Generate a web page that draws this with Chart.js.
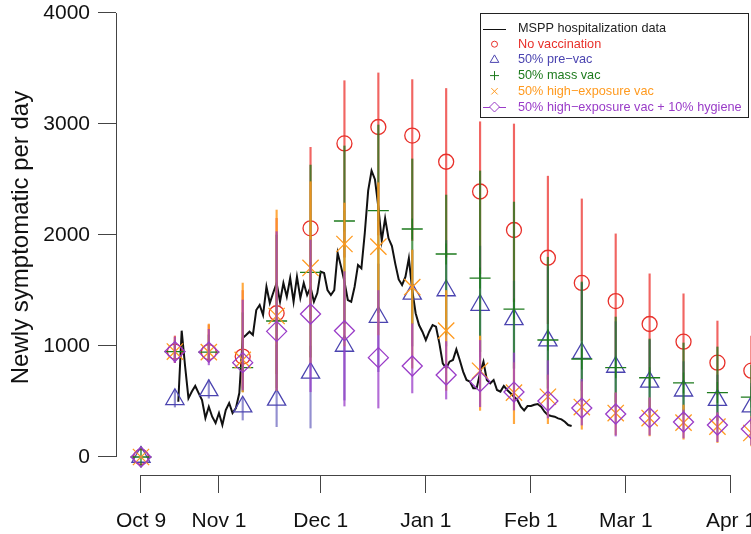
<!DOCTYPE html>
<html>
<head>
<meta charset="utf-8">
<script src="https://cdn.jsdelivr.net/npm/chart.js@4.4.1/dist/chart.umd.min.js"></script>
<style>
  html, body { margin: 0; padding: 0; background: #fff; }
  #wrap { width: 751px; height: 534px; }
</style>
</head>
<body>
<div id="wrap"><canvas id="myChart" width="751" height="534"></canvas></div>
<script>
// model runs, one value every 10 days from Oct 9 (day 0)
var days = [0,10,20,30,40,50,60,70,80,90,100,110,120,130,140,150,160,170,180];

var noVac   = [0,950,945,905,1295,2060,2825,2973,2896,2660,2392,2045,1795,1568,1405,1198,1039,850,778];
var noVacHi = [0,1090,1190,1500,2150,2790,3390,3460,3400,3320,3020,3000,2530,2325,2010,1650,1470,1225,1090];
var noVacLo = [0,850,860,620,750,1250,1800,2000,1950,1800,1650,1400,1200,1050,900,760,650,560,500];

var preVac   = [0,520,600,453,515,757,1000,1261,1470,1500,1369,1240,1048,935,811,676,597,513,453];
var preVacHi = [0,603,694,531,1009,1000,1612,1739,1865,1950,1900,1585,1712,1568,1219,1054,859,739,664];
var preVacLo = [0,450,530,333,273,261,513,769,1000,1000,900,800,700,600,498,453,423,378,333];

var massVac   = [0,950,945,805,1225,1663,2126,2219,2054,1829,1612,1333,1054,883,805,714,667,580,540];
var massVacHi = [0,1050,1100,1300,2000,2630,2802,2991,2685,2360,2577,2297,1800,1577,1261,1063,1027,991,829];
var massVacLo = [0,880,880,588,620,900,1200,1300,1200,1100,950,800,620,500,450,400,380,330,300];

var highExp   = [0,950,945,875,1270,1703,1919,1895,1531,1138,777,580,543,450,396,351,309,273,216];
var highExpHi = [0,1080,1198,1567,2225,2480,2288,2471,1865,1500,1090,850,739,678,577,532,468,396,363];
var highExpLo = [0,860,860,585,600,850,1000,1100,800,600,420,300,300,250,200,190,160,130,100];

var hygiene   = [0,950,945,850,1132,1288,1138,895,820,739,679,585,504,441,387,354,315,288,252];
var hygieneHi = [0,1080,1150,1414,2030,1955,1670,1500,1200,1040,1050,937,868,700,577,532,423,400,360];
var hygieneLo = [0,850,830,603,603,588,459,441,577,522,453,423,351,288,189,198,171,138,108];

// MSPP daily hospitalizations, starting at day 11
var hospStart = 11;
var hosp = [
  498,1138,820,530,590,640,576,513,351,453,
  363,306,396,288,423,486,396,441,576,1072,
  1099,1129,1099,1324,1369,1279,1534,1387,1480,1567,
  1399,1567,1444,1612,1399,1624,1432,1567,1459,1530,
  1399,1477,1670,1657,1504,1459,1504,1838,1715,1580,
  1414,1399,1534,1730,1700,2018,2400,2579,2500,2250,
  1950,2150,1970,1900,1740,1600,1550,1624,1790,1500,
  1295,1189,1129,1054,1129,1189,1174,1024,844,800,
  859,874,970,874,769,694,679,619,619,760,
  859,694,664,694,604,589,640,604,574,543,
  514,453,420,459,459,470,477,453,408,378,
  370,363,348,339,318,288,279
];

var xTicks = [0,23,53,84,115,143,174];
var xTickLabels = ['Oct 9','Nov 1','Dec 1','Jan 1','Feb 1','Mar 1','Apr 1'];
var yTicks = [0,1000,2000,3000,4000];

var seriesNames = ['MSPP hospitalization data','No vaccination','50% pre\u2212vac','50% mass vac',
  '50% high\u2212exposure vac','50% high\u2212exposure vac + 10% hygiene'];

var FONT = "'Liberation Sans', Arial, Helvetica, sans-serif";
Chart.defaults.font.family = FONT;

var models = [
  {name: seriesNames[1], v: noVac, lo: noVacLo, hi: noVacHi, color: '#E8302A', bar: 'rgba(236,50,45,0.75)', style: 'circle', r: 7.5},
  {name: seriesNames[2], v: preVac, lo: preVacLo, hi: preVacHi, color: '#4B44B0', bar: 'rgba(75,68,176,0.6)', style: 'triangle', r: 10.5},
  {name: seriesNames[3], v: massVac, lo: massVacLo, hi: massVacHi, color: '#1E7B1E', bar: 'rgba(30,123,30,0.75)', style: 'cross', r: 10.5},
  {name: seriesNames[4], v: highExp, lo: highExpLo, hi: highExpHi, color: '#FF9A1F', bar: 'rgba(255,154,31,0.85)', style: 'crossRot', r: 11.5},
  {name: seriesNames[5], v: hygiene, lo: hygieneLo, hi: hygieneHi, color: '#9A3CC8', bar: 'rgba(154,60,200,0.75)', style: 'rectRot', r: 10}
];

var datasets = [{
  type: 'line',
  label: seriesNames[0],
  data: hosp.map(function (v, i) { return {x: hospStart + i, y: v}; }),
  borderColor: '#111',
  borderWidth: 2,
  pointRadius: 0,
  tension: 0,
  order: 20
}];

models.forEach(function (m, k) {
  datasets.push({
    type: 'bar',
    label: m.name + ' range',
    data: days.map(function (d, i) { return {x: d, y: [m.lo[i], m.hi[i]]}; }),
    backgroundColor: m.bar,
    borderWidth: 0,
    barThickness: 1.5,
    grouped: false,
    order: 11 - k * 2
  });
  datasets.push({
    type: 'line',
    label: m.name,
    data: days.map(function (d, i) { return {x: d, y: m.v[i]}; }),
    showLine: false,
    pointStyle: m.style,
    pointRadius: m.r,
    pointBorderColor: m.color,
    pointBackgroundColor: 'rgba(0,0,0,0)',
    pointBorderWidth: 1.3,
    order: 10 - k * 2
  });
});

// R-style axis lines (only between first and last tick)
var rAxes = {
  id: 'rAxes',
  afterDraw: function (chart) {
    var ctx = chart.ctx, xs = chart.scales.x, ys = chart.scales.y;
    ctx.save();
    ctx.strokeStyle = '#444';
    ctx.lineWidth = 1;
    ctx.beginPath();
    var ax = Math.round(chart.chartArea.left) + 0.5;
    ctx.moveTo(ax, ys.getPixelForValue(yTicks[yTicks.length - 1]));
    ctx.lineTo(ax, ys.getPixelForValue(yTicks[0]));
    var ay = Math.round(chart.chartArea.bottom) + 0.5;
    ctx.moveTo(xs.getPixelForValue(xTicks[0]), ay);
    ctx.lineTo(xs.getPixelForValue(xTicks[xTicks.length - 1]), ay);
    ctx.stroke();
    ctx.restore();
  }
};

// boxed legend in the top right corner
var rLegend = {
  id: 'rLegend',
  afterDraw: function (chart) {
    var ctx = chart.ctx;
    var bx = 480, by = 13, bw = 268, bh = 104;
    ctx.save();
    ctx.fillStyle = '#fff';
    ctx.fillRect(bx, by, bw, bh);
    ctx.strokeStyle = '#222';
    ctx.lineWidth = 1;
    ctx.strokeRect(bx + 0.5, by + 0.5, bw, bh);
    ctx.font = '12.7px ' + FONT;
    ctx.textBaseline = 'middle';
    var sx = 494.5, tx = 518, y0 = 28.5, step = 15.7;
    var legendSize = [3, 5, 4.5, 4.5, 5];
    for (var i = 0; i < seriesNames.length; i++) {
      var y = y0 + i * step;
      var col = i === 0 ? '#111' : models[i - 1].color;
      ctx.strokeStyle = col;
      ctx.fillStyle = 'rgba(0,0,0,0)';
      ctx.lineWidth = 1;
      if (i === 0 || i === 5) {
        ctx.beginPath();
        ctx.moveTo(483, Math.round(y) + 0.5);
        ctx.lineTo(506, Math.round(y) + 0.5);
        ctx.stroke();
      }
      if (i > 0) {
        if (i === 5) ctx.fillStyle = '#fff';
        Chart.helpers.drawPoint(ctx, {pointStyle: models[i - 1].style, radius: legendSize[i - 1], borderWidth: 1, rotation: 0}, sx, y);
      }
      ctx.fillStyle = i === 0 ? '#222' : col;
      ctx.fillText(seriesNames[i], tx, y);
    }
    ctx.restore();
  }
};

new Chart(document.getElementById('myChart'), {
  type: 'line',
  data: {datasets: datasets},
  options: {
    responsive: false,
    animation: false,
    events: [],
    layout: {padding: 0, autoPadding: false},
    plugins: {legend: {display: false}, tooltip: {enabled: false}},
    scales: {
      x: {
        type: 'linear',
        min: -7.37,
        max: 179.9,
        offset: false,
        grid: {drawOnChartArea: false, drawTicks: true, tickLength: 18, color: '#444', offset: false},
        border: {display: false},
        ticks: {
          autoSkip: false,
          maxRotation: 0,
          padding: 16,
          color: '#111',
          font: {size: 21},
          callback: function (v, i) { return xTickLabels[i]; }
        },
        afterBuildTicks: function (s) { s.ticks = xTicks.map(function (v) { return {value: v}; }); },
        afterFit: function (s) { s.height = 59; s.paddingLeft = 0; s.paddingRight = 0; }
      },
      y: {
        type: 'linear',
        min: -162.2,
        max: 4117.1,
        grid: {drawOnChartArea: false, drawTicks: true, tickLength: 18, color: '#444'},
        border: {display: false},
        ticks: {padding: 8, color: '#111', font: {size: 21}, callback: function (v) { return String(v); }},
        title: {display: true, text: 'Newly symptomatic per day', color: '#111', font: {size: 24}, padding: {top: 7, bottom: 0}},
        afterBuildTicks: function (s) { s.ticks = yTicks.map(function (v) { return {value: v}; }); },
        afterFit: function (s) { s.width = 116; s.paddingTop = 0; s.paddingBottom = 0; }
      }
    }
  },
  plugins: [rAxes, rLegend]
});
</script>
</body>
</html>
